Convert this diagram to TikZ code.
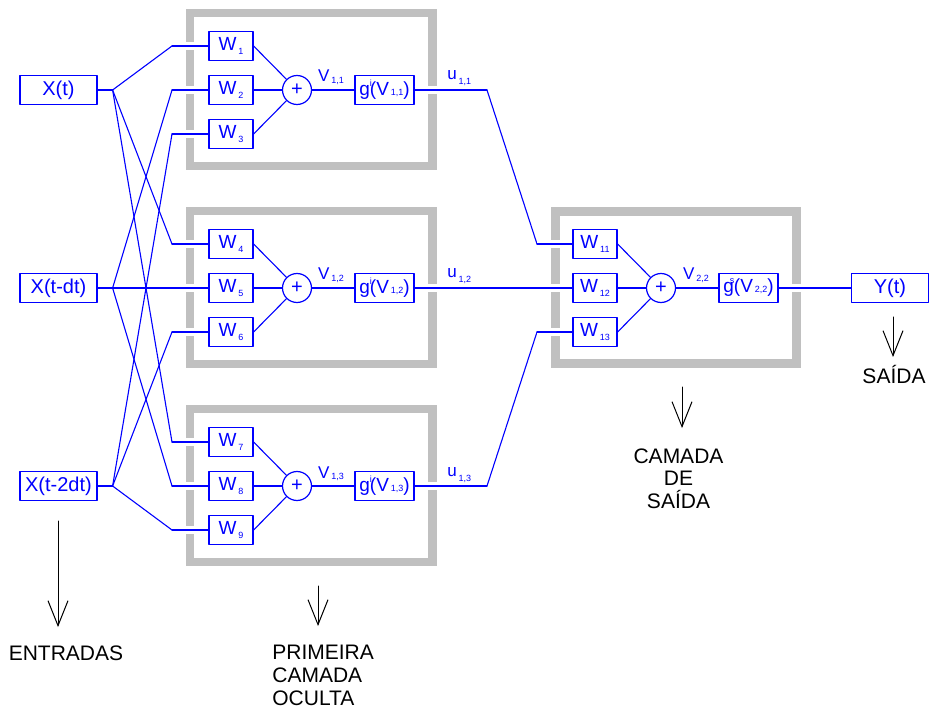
\documentclass[tikz,border=0pt]{standalone}
\usepackage{fontspec}
\setmainfont{Liberation Sans}
\usetikzlibrary{arrows.meta,calc,positioning}
\definecolor{netblue}{HTML}{0000FF}
\definecolor{framegray}{HTML}{C0C0C0}
% small indices as in the original drawing
\newcommand\idx[2][1.5pt]{\kern0.9pt\raisebox{-#1}{\fontsize{4.5}{5}\selectfont #2}}
\newcommand\gexp[2][0pt]{\rlap{\kern#1\raisebox{4.5pt}{\fontsize{4.5}{5}\selectfont #2}}}

\begin{document}
\begin{tikzpicture}[x=0.5pt, y=-0.5pt, line cap=round, line join=round,
  box/.style={draw=netblue, text=netblue, line width=0.6pt, inner sep=0pt,
    minimum height=14.5pt},
  iobox/.style={box, minimum width=38.5pt, font=\fontsize{10}{12}\selectfont},
  wbox/.style={box, minimum width=22pt, font=\fontsize{9.5}{11}\selectfont},
  gbox/.style={box, minimum width=29.5pt, font=\fontsize{9.5}{11}\selectfont},
  sumnode/.style={circle, draw=netblue, text=netblue, line width=0.6pt,
    inner sep=0pt, minimum size=14.5pt, font=\fontsize{10}{11}\selectfont},
  wire/.style={netblue, line width=0.55pt},
  halo/.style={preaction={draw=white, line width=4pt, line cap=butt}},
  grayframe/.style={framegray, line width=4.2pt, line cap=butt, line join=miter},
  lab/.style={text=netblue, inner sep=0pt, font=\fontsize{8.5}{10}\selectfont},
  layertxt/.style={inner sep=0pt, font=\fontsize{10.5}{11.4}\selectfont},
  arr/.style={-{Straight Barb[length=12.5pt, width=10pt]}, line width=0.5pt}]
  \path[use as bounding box] (0,0) rectangle (932,711);
  % hidden layer: three blocks, rows centred at y = 90, 288, 486
  \foreach \b/\yc in {1/90,2/288,3/486} {
    \draw[grayframe] (190.2,\yc-77) rectangle (432.5,\yc+76);
    \foreach \k in {1,2,3} {
      \pgfmathtruncatemacro\n{3*(\b-1)+\k}
      \coordinate (k\n) at (172,\yc+44*\k-88);
      \node[wbox] (w\n) at (231,\yc+44*\k-88) {W\idx[2pt]{\n}};
    }
    \node[sumnode] (s\b) at (297,\yc) {+};
    \node[gbox] (g\b) at (384.5,\yc) {g\gexp{i}(V\idx[0pt]{1,\b})};
    \coordinate (ku\b) at (487,\yc);
  }
  % output layer
  \draw[grayframe] (555.5,211.5) rectangle (796.5,363.5);
  \foreach \k in {1,2,3} {
    \coordinate (ko\k) at (537,200+44*\k);
    \node[wbox] (w1\k) at (595,200+44*\k) {W\idx[2pt]{1\k}};
  }
  \node[sumnode] (s4) at (661,288) {+};
  \node[gbox] (gs) at (748.5,288) {g\gexp[-2pt]{s}(V\idx[0pt]{2,2})};
  \node[iobox] (yt) at (890,288) {Y(t)};
  % inputs
  \foreach \nm/\yc/\txt in {xa/90/X(t), xb/288/X(t-dt), xc/486/X(t-2dt)}
    \node[iobox] (\nm) at (58.5,\yc) {\txt};
  % every input feeds one weight of each hidden block
  \foreach \i/\nm in {1/xa,2/xb,3/xc} {
    \draw[wire] (\nm.east) -- ++(15,0) coordinate (f\i);
    \foreach \b in {1,2,3} {
      \pgfmathtruncatemacro\n{3*(\b-1)+\i}
      \draw[wire,halo] (k\n) -- (w\n.west);
      \draw[wire] (f\i) -- (k\n);
    }
  }
  \foreach \b in {1,2,3} {
    \foreach \k in {1,2,3} {
      \pgfmathtruncatemacro\n{3*(\b-1)+\k}
      \draw[wire] (w\n.east) -- (s\b);
    }
    \draw[wire] (s\b) -- (g\b);
  }
  % hidden outputs into the output block
  \foreach \b in {1,3} {
    \draw[wire,halo] (g\b.east) -- (ku\b);
    \draw[wire] (ku\b) -- (ko\b);
    \draw[wire,halo] (ko\b) -- (w1\b.west);
  }
  \draw[wire,halo] (g2.east) -- (w12.west);
  \foreach \k in {1,2,3}
    \draw[wire] (w1\k.east) -- (s4);
  \draw[wire] (s4) -- (gs);
  \draw[wire,halo] (gs) -- (yt);
  % signal labels
  \foreach \b/\yc in {1/90,2/288,3/486} {
    \node[lab, anchor=base] (v\b) at (331,\yc-8) {V\idx[0.7pt]{1,\b}};
    \node[lab, anchor=base west] (u\b) at (447,\yc-10) {u\idx[2.5pt]{1,\b}};
  }
  \node[lab, anchor=base] (v4) at (696,280) {V\idx[0.7pt]{2,2}};
  % layer names
  \node[layertxt, anchor=base] (inlab) at (66,660) {ENTRADAS};
  \node[layertxt, anchor=north west, align=left] (hidlab) at (272,645)
    {PRIMEIRA\\CAMADA\\OCULTA};
  \node[layertxt, anchor=north, align=center] (outlab) at (678.5,448)
    {CAMADA\\DE\\SAÍDA};
  \node[layertxt, anchor=base] (ylab) at (894,384) {SAÍDA};
  \foreach \i/\x/\ya/\yb in {1/58/521/627, 2/318/586/626, 3/682/387/428, 4/893/317/357} {
    \coordinate (ar\i) at (\x,\ya);
    \coordinate (ah\i) at (\x,\yb);
    \draw[arr] (ar\i) -- (ah\i);
  }
\end{tikzpicture}
\end{document}
